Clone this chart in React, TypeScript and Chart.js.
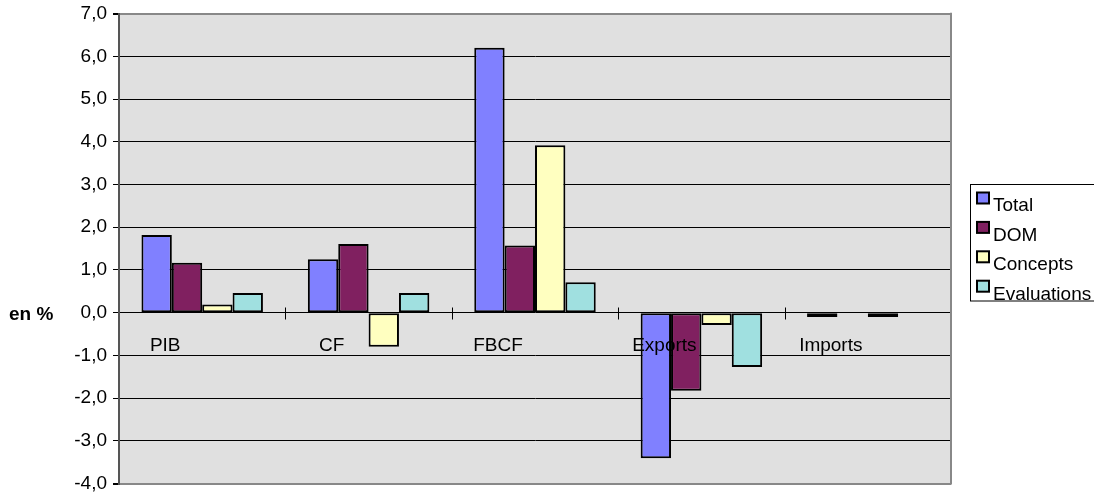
import React, { useEffect, useRef } from "react";
import { Chart, registerables } from "chart.js";

Chart.register(...registerables);

const categories = ["PIB", "CF", "FBCF", "Exports", "Imports"];
const totalValues = [1.82, 1.25, 6.2, -3.41, -0.1];
const domValues = [1.17, 1.61, 1.57, -1.83, null];
const conceptsValues = [0.19, -0.8, 3.92, -0.29, -0.1];
const evaluationsValues = [0.46, 0.46, 0.71, -1.27, null];
const seriesNames = ["Total", "DOM", "Concepts", "Evaluations"];
const seriesColors = ["#8080FF", "#802060", "#FFFFC0", "#A0E0E0"];
const yMin = -4;
const yMax = 7;
const yAxisTitle = "en %";

const FONT = "'Liberation Sans', Arial, sans-serif";
const FS = 19;

const decorPlugin = {
  id: "decor",
  beforeDraw(chart: any) {
    const { ctx, chartArea } = chart;
    ctx.save();
    ctx.fillStyle = "#E0E0E0";
    ctx.fillRect(chartArea.left, chartArea.top, chartArea.right - chartArea.left, chartArea.bottom - chartArea.top);
    ctx.restore();
  },
  afterDatasetsDraw(chart: any) {
    const { ctx, chartArea } = chart;
    const xs = chart.scales.x;
    const ys = chart.scales.y;
    const y0 = Math.round(ys.getPixelForValue(0)) + 0.5;
    ctx.save();
    ctx.strokeStyle = "#000";
    ctx.lineWidth = 1;
    for (let i = 1; i <= categories.length; i++) {
      const x = Math.round(xs.getPixelForValue(i - 0.5)) + 0.5;
      ctx.beginPath();
      ctx.moveTo(x, y0 - 6);
      ctx.lineTo(x, y0 + 6);
      ctx.stroke();
    }
    ctx.strokeStyle = "#888";
    ctx.lineWidth = 2;
    ctx.beginPath();
    ctx.moveTo(chartArea.right, chartArea.top - 1);
    ctx.lineTo(chartArea.right, chartArea.bottom + 1);
    ctx.stroke();
    ctx.restore();
  },
  afterDraw(chart: any) {
    const { ctx } = chart;
    const ys = chart.scales.y;
    ctx.save();
    ctx.fillStyle = "#000";
    ctx.font = "bold " + FS + "px " + FONT;
    ctx.textAlign = "left";
    ctx.textBaseline = "middle";
    ctx.fillText(yAxisTitle, 9, ys.getPixelForValue(0) + 2);
    ctx.strokeStyle = "#000";
    ctx.lineWidth = 1;
    ctx.strokeRect(970.5, 184.5, 140, 116.5);
    ctx.font = FS + "px " + FONT;
    ctx.textBaseline = "alphabetic";
    for (let i = 0; i < seriesNames.length; i++) {
      const top = 192.5 + i * 29.4;
      ctx.fillStyle = seriesColors[i];
      ctx.fillRect(977, top, 12, 11);
      ctx.lineWidth = 2;
      ctx.strokeStyle = "#000";
      ctx.strokeRect(977, top, 12, 11);
      ctx.fillStyle = "#000";
      ctx.fillText(seriesNames[i], 993, 211 + i * 29.6);
    }
    ctx.restore();
  },
};

export default function App() {
  const ref = useRef<HTMLCanvasElement | null>(null);
  useEffect(() => {
    document.body.style.margin = "0";
    document.body.style.overflow = "hidden";
    const canvas = ref.current;
    if (!canvas) return;
    const seriesValues = [totalValues, domValues, conceptsValues, evaluationsValues];
    const chart = new Chart(canvas, {
      type: "bar",
      data: {
        labels: categories,
        datasets: seriesNames.map((name, i) => ({
          label: name,
          data: seriesValues[i] as any,
          backgroundColor: seriesColors[i],
          borderColor: "#000",
          borderWidth: 2,
          borderSkipped: false,
          barPercentage: 1,
          categoryPercentage: 0.73,
        })),
      },
      options: {
        responsive: false,
        animation: false,
        devicePixelRatio: 1,
        layout: { padding: { left: 0, right: 143, top: 13.7, bottom: 13.5 } },
        plugins: {
          legend: { display: false },
          tooltip: { enabled: false },
        },
        scales: {
          x: {
            type: "category",
            position: { y: 0 } as any,
            afterFit: (s: any) => {
              s.height = 0;
              s.paddingLeft = 0;
              s.paddingRight = 0;
              s.paddingTop = 0;
              s.paddingBottom = 0;
            },
            border: { display: false },
            grid: { display: true, drawOnChartArea: false, drawTicks: false, offset: true },
            ticks: {
              z: 1,
              color: "#000",
              font: { family: FONT, size: FS },
              padding: 22,
              labelOffset: -37,
              maxRotation: 0,
              autoSkip: false,
            },
          },
          y: {
            min: yMin,
            max: yMax,
            afterFit: (s: any) => {
              s.width = 119;
              s.paddingTop = 0;
              s.paddingBottom = 0;
              s.paddingLeft = 0;
              s.paddingRight = 0;
            },
            border: { display: true, color: "#555", width: 2 },
            grid: {
              color: (c: any) => (c.tick && (c.tick.value === yMax || c.tick.value === yMin) ? "#888" : "#000"),
              lineWidth: (c: any) => (c.tick && (c.tick.value === yMax || c.tick.value === yMin) ? 2 : 1),
              tickColor: "#000",
              tickLength: 6,
              drawTicks: true,
            },
            ticks: {
              stepSize: 1,
              color: "#000",
              padding: 6,
              font: { family: FONT, size: FS },
              callback: (v: any) => Number(v).toFixed(1).replace(".", ","),
            },
          },
        },
      },
      plugins: [decorPlugin],
    });
    return () => chart.destroy();
  }, []);
  return (
    <div style={{ width: 1094, height: 497 }}>
      <canvas ref={ref} width={1094} height={497} style={{ display: "block" }} />
    </div>
  );
}
